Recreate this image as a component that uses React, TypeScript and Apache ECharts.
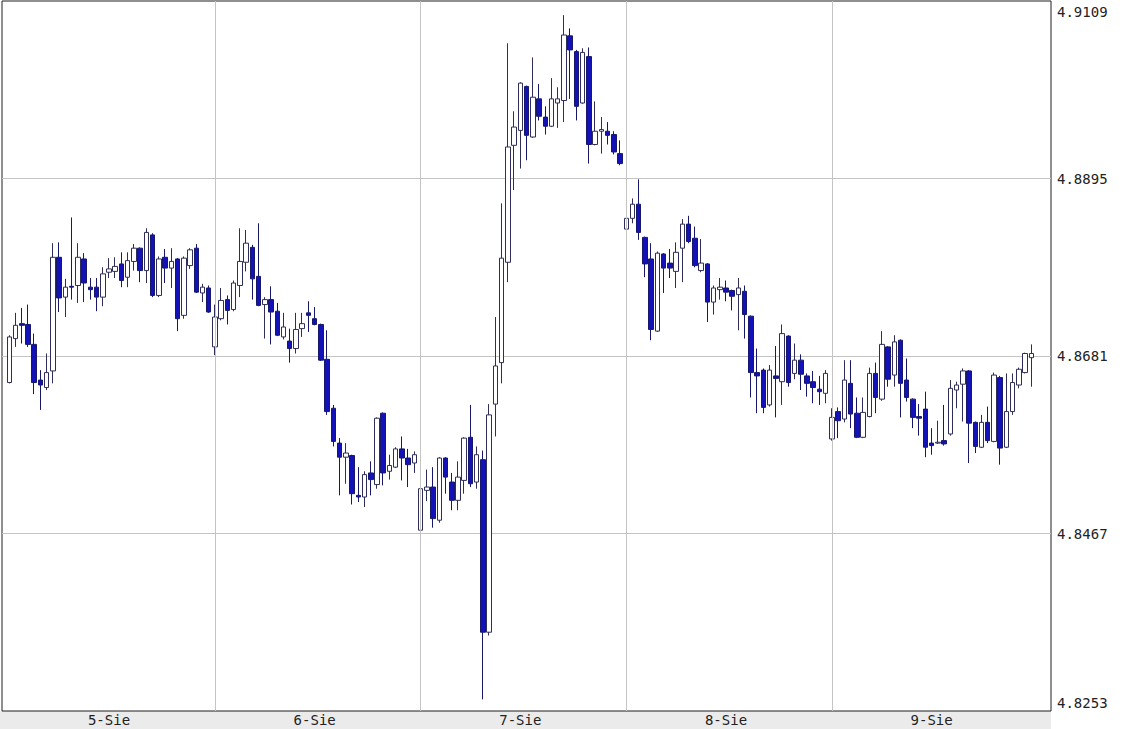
import { useEffect, useRef } from 'react';
import * as echarts from 'echarts';

const dayLabels = ['5-Sie', '6-Sie', '7-Sie', '8-Sie', '9-Sie'];
const yTickValues = [4.8253, 4.8467, 4.8681, 4.8895, 4.9109];

// each candle: [open, close, low, high]
const sie5 = [
  [4.8649, 4.8704, 4.8648, 4.8706], [4.8702, 4.8718, 4.8692, 4.8733], [4.8720, 4.8718, 4.8696, 4.8739],
  [4.8719, 4.8695, 4.8692, 4.8743], [4.8695, 4.8649, 4.8635, 4.8708], [4.8652, 4.8646, 4.8616, 4.8664],
  [4.8643, 4.8661, 4.8640, 4.8684], [4.8663, 4.8800, 4.8648, 4.8817], [4.8800, 4.8751, 4.8734, 4.8818],
  [4.8752, 4.8764, 4.8728, 4.8774], [4.8765, 4.8764, 4.8749, 4.8848], [4.8766, 4.8800, 4.8745, 4.8817],
  [4.8798, 4.8769, 4.8746, 4.8805], [4.8764, 4.8761, 4.8749, 4.8775], [4.8764, 4.8752, 4.8735, 4.8775],
  [4.8752, 4.8780, 4.8741, 4.8788], [4.8782, 4.8786, 4.8775, 4.8799], [4.8783, 4.8789, 4.8775, 4.8800],
  [4.8792, 4.8772, 4.8764, 4.8806], [4.8776, 4.8796, 4.8764, 4.8806], [4.8795, 4.8811, 4.8784, 4.8816],
  [4.8811, 4.8784, 4.8770, 4.8812], [4.8784, 4.8830, 4.8769, 4.8835], [4.8827, 4.8754, 4.8752, 4.8829],
  [4.8754, 4.8798, 4.8752, 4.8801], [4.8800, 4.8787, 4.8769, 4.8810], [4.8787, 4.8795, 4.8763, 4.8811],
  [4.8798, 4.8726, 4.8711, 4.8799], [4.8730, 4.8799, 4.8726, 4.8801], [4.8790, 4.8809, 4.8786, 4.8811],
  [4.8811, 4.8758, 4.8757, 4.8816], [4.8757, 4.8764, 4.8746, 4.8768], [4.8763, 4.8734, 4.8733, 4.8766],
];

const sie6 = [
  [4.8692, 4.8728, 4.8682, 4.8743], [4.8726, 4.8748, 4.8724, 4.8763], [4.8749, 4.8736, 4.8719, 4.8754],
  [4.8737, 4.8769, 4.8735, 4.8772], [4.8766, 4.8795, 4.8752, 4.8835], [4.8794, 4.8817, 4.8783, 4.8833],
  [4.8812, 4.8774, 4.8749, 4.8815], [4.8777, 4.8742, 4.8741, 4.8841], [4.8743, 4.8749, 4.8702, 4.8752],
  [4.8749, 4.8734, 4.8695, 4.8765], [4.8735, 4.8706, 4.8705, 4.8745], [4.8704, 4.8716, 4.8701, 4.8733],
  [4.8699, 4.8690, 4.8673, 4.8714], [4.8690, 4.8713, 4.8684, 4.8733], [4.8714, 4.8720, 4.8704, 4.8733],
  [4.8733, 4.8730, 4.8710, 4.8747], [4.8726, 4.8719, 4.8718, 4.8740], [4.8719, 4.8676, 4.8675, 4.8720],
  [4.8677, 4.8614, 4.8610, 4.8712], [4.8618, 4.8578, 4.8572, 4.8622], [4.8576, 4.8559, 4.8513, 4.8582],
  [4.8559, 4.8564, 4.8527, 4.8576], [4.8561, 4.8515, 4.8502, 4.8562], [4.8513, 4.8511, 4.8505, 4.8547],
  [4.8511, 4.8538, 4.8499, 4.8542], [4.8540, 4.8532, 4.8513, 4.8554], [4.8526, 4.8606, 4.8521, 4.8607],
  [4.8612, 4.8540, 4.8525, 4.8613], [4.8542, 4.8549, 4.8532, 4.8562], [4.8547, 4.8569, 4.8546, 4.8571],
  [4.8569, 4.8558, 4.8531, 4.8584], [4.8558, 4.8550, 4.8523, 4.8569], [4.8552, 4.8562, 4.8540, 4.8566],
];

const sie7 = [
  [4.8471, 4.8521, 4.8470, 4.8531], [4.8519, 4.8523, 4.8506, 4.8544], [4.8523, 4.8485, 4.8474, 4.8547],
  [4.8483, 4.8558, 4.8480, 4.8559], [4.8558, 4.8535, 4.8515, 4.8559], [4.8529, 4.8507, 4.8495, 4.8540],
  [4.8507, 4.8535, 4.8495, 4.8554], [4.8531, 4.8582, 4.8515, 4.8583], [4.8583, 4.8527, 4.8523, 4.8622],
  [4.8529, 4.8562, 4.8521, 4.8572], [4.8556, 4.8348, 4.8267, 4.8567], [4.8348, 4.8610, 4.8344, 4.8623],
  [4.8623, 4.8669, 4.8584, 4.8728], [4.8673, 4.8799, 4.8648, 4.8865], [4.8794, 4.8933, 4.8770, 4.9058],
  [4.8935, 4.8957, 4.8881, 4.8976], [4.8953, 4.9010, 4.8907, 4.9011], [4.9006, 4.8947, 4.8917, 4.9007],
  [4.8945, 4.8993, 4.8944, 4.9041], [4.8991, 4.8970, 4.8965, 4.9009], [4.8969, 4.8958, 4.8948, 4.8982],
  [4.8958, 4.8991, 4.8957, 4.9016], [4.8986, 4.8991, 4.8956, 4.9005], [4.8989, 4.9068, 4.8963, 4.9092],
  [4.9067, 4.9050, 4.8991, 4.9076], [4.9048, 4.8982, 4.8965, 4.9050], [4.8986, 4.9047, 4.8985, 4.9052],
  [4.9042, 4.8936, 4.8913, 4.9053], [4.8936, 4.8952, 4.8935, 4.8988], [4.8952, 4.8954, 4.8925, 4.8969],
  [4.8952, 4.8947, 4.8936, 4.8963], [4.8948, 4.8927, 4.8924, 4.8952], [4.8925, 4.8913, 4.8911, 4.8941],
];

const sie8 = [
  [4.8834, 4.8847, 4.8833, 4.8878], [4.8847, 4.8864, 4.8841, 4.8871], [4.8864, 4.8830, 4.8821, 4.8894],
  [4.8824, 4.8792, 4.8776, 4.8825], [4.8798, 4.8713, 4.8700, 4.8817], [4.8711, 4.8805, 4.8710, 4.8807],
  [4.8804, 4.8787, 4.8757, 4.8805], [4.8793, 4.8787, 4.8775, 4.8810], [4.8783, 4.8806, 4.8763, 4.8818],
  [4.8811, 4.8840, 4.8770, 4.8846], [4.8840, 4.8819, 4.8817, 4.8850], [4.8823, 4.8790, 4.8788, 4.8837],
  [4.8784, 4.8793, 4.8782, 4.8822], [4.8792, 4.8746, 4.8722, 4.8793], [4.8746, 4.8763, 4.8731, 4.8766],
  [4.8761, 4.8764, 4.8749, 4.8775], [4.8763, 4.8758, 4.8747, 4.8772], [4.8760, 4.8753, 4.8736, 4.8761],
  [4.8755, 4.8763, 4.8712, 4.8775], [4.8759, 4.8731, 4.8702, 4.8766], [4.8729, 4.8661, 4.8631, 4.8730],
  [4.8661, 4.8657, 4.8612, 4.8690], [4.8664, 4.8619, 4.8612, 4.8666], [4.8622, 4.8664, 4.8620, 4.8670],
  [4.8657, 4.8654, 4.8607, 4.8693], [4.8650, 4.8708, 4.8622, 4.8719], [4.8705, 4.8649, 4.8644, 4.8706],
  [4.8660, 4.8676, 4.8653, 4.8696], [4.8676, 4.8659, 4.8640, 4.8683], [4.8657, 4.8648, 4.8632, 4.8660],
  [4.8650, 4.8643, 4.8624, 4.8663], [4.8641, 4.8638, 4.8622, 4.8657], [4.8636, 4.8660, 4.8624, 4.8664],
];

const sie9 = [
  [4.8581, 4.8607, 4.8579, 4.8618], [4.8614, 4.8603, 4.8582, 4.8619], [4.8605, 4.8652, 4.8601, 4.8676],
  [4.8648, 4.8611, 4.8594, 4.8676], [4.8612, 4.8583, 4.8582, 4.8631], [4.8583, 4.8613, 4.8582, 4.8631],
  [4.8608, 4.8660, 4.8607, 4.8667], [4.8660, 4.8631, 4.8612, 4.8673], [4.8629, 4.8695, 4.8627, 4.8711],
  [4.8692, 4.8653, 4.8644, 4.8693], [4.8658, 4.8698, 4.8644, 4.8706], [4.8700, 4.8648, 4.8607, 4.8701],
  [4.8652, 4.8631, 4.8626, 4.8678], [4.8629, 4.8607, 4.8594, 4.8630], [4.8608, 4.8606, 4.8585, 4.8623],
  [4.8617, 4.8571, 4.8559, 4.8638], [4.8576, 4.8573, 4.8562, 4.8594], [4.8576, 4.8577, 4.8575, 4.8603],
  [4.8579, 4.8575, 4.8573, 4.8622], [4.8587, 4.8642, 4.8585, 4.8652], [4.8640, 4.8646, 4.8618, 4.8650],
  [4.8647, 4.8663, 4.8602, 4.8666], [4.8663, 4.8600, 4.8552, 4.8664], [4.8601, 4.8572, 4.8564, 4.8602],
  [4.8571, 4.8601, 4.8570, 4.8610], [4.8601, 4.8579, 4.8576, 4.8620], [4.8578, 4.8658, 4.8577, 4.8661],
  [4.8655, 4.8570, 4.8550, 4.8657], [4.8571, 4.8614, 4.8570, 4.8660], [4.8614, 4.8649, 4.8610, 4.8660],
  [4.8646, 4.8665, 4.8642, 4.8667], [4.8661, 4.8684, 4.8660, 4.8685], [4.8679, 4.8684, 4.8644, 4.8695],
];

const days = [sie5, sie6, sie7, sie8, sie9];

export default function App() {
  const ref = useRef<HTMLDivElement>(null);

  useEffect(() => {
    if (!ref.current) return;
    const chart = echarts.init(ref.current, undefined, { renderer: 'svg' });

    const seriesData: number[][] = [];
    const dayStarts: number[] = [];
    const dayCenters: number[] = [];
    let idx = 0;
    days.forEach((d) => {
      dayStarts.push(idx);
      dayCenters.push(idx + Math.floor(d.length / 2));
      d.forEach((c) => {
        seriesData.push([idx, c[0], c[1], c[2], c[3]]);
        idx++;
      });
    });
    const separators = dayStarts.slice(1);
    const yMin = yTickValues[0];
    const yMax = yTickValues[yTickValues.length - 1];
    const font = 'DejaVu Sans Mono';

    chart.setOption({
      animation: false,
      backgroundColor: '#ffffff',
      grid: {
        left: 2,
        right: 79,
        top: 1,
        bottom: 18,
        show: true,
        borderColor: '#1e1e1e',
        borderWidth: 1,
        backgroundColor: '#ffffff',
      },
      graphic: [
        {
          type: 'rect',
          z: -10,
          shape: { x: 0, y: 711, width: 1051, height: 18 },
          style: { fill: '#ebebeb' },
        },
      ],
      xAxis: {
        type: 'value',
        min: -1.17,
        max: 167.15,
        z: 5,
        axisLine: { show: false },
        axisTick: { show: false, customValues: separators },
        splitLine: { show: true, lineStyle: { color: '#c4c4c4', width: 1 } },
        axisLabel: {
          customValues: dayCenters,
          formatter: (v: number) => {
            const i = dayCenters.indexOf(Math.round(v));
            return i >= 0 ? dayLabels[i] : '';
          },
          color: '#222',
          fontFamily: font,
          fontSize: 14,
          margin: 2,
        },
      },
      yAxis: {
        type: 'value',
        position: 'right',
        min: yMin,
        max: yMax,
        axisLine: { show: false },
        axisTick: {
          show: false,
          customValues: yTickValues.slice(1, -1),
        },
        splitLine: { show: true, lineStyle: { color: '#c4c4c4', width: 1 } },
        axisLabel: {
          customValues: yTickValues,
          margin: 6,
          color: '#222',
          fontFamily: font,
          fontSize: 14,
          formatter: (v: number) => {
            const s = v.toFixed(4);
            if (Math.abs(v - yMax) < 1e-6) return `{t|${s}}`;
            if (Math.abs(v - yMin) < 1e-6) return `{b|${s}}`;
            return s;
          },
          rich: {
            t: { padding: [22, 0, 0, 0], color: '#222', fontFamily: font, fontSize: 14 },
            b: { padding: [0, 0, 16, 0], color: '#222', fontFamily: font, fontSize: 14 },
          },
        },
      },
      series: [
        {
          type: 'candlestick',
          data: seriesData,
          encode: { x: 0, y: [1, 2, 3, 4] },
          barWidth: 5,
          itemStyle: {
            color: '#ffffff',
            color0: '#1212b8',
            borderColor: '#2e2e58',
            borderColor0: '#18186a',
            borderWidth: 1,
          },
        },
      ],
    });

    return () => chart.dispose();
  }, []);

  return (
    <div
      ref={ref}
      style={{ position: 'fixed', left: 0, top: 0, width: 1130, height: 729 }}
    />
  );
}
